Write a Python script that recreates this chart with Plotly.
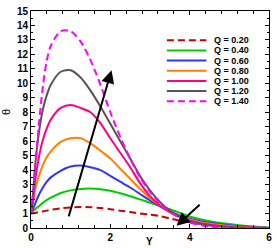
import plotly.graph_objects as go

# ---- data ----
Y = [0, 0.05, 0.1, 0.2, 0.3, 0.4, 0.5, 0.75, 1.0, 1.25, 1.5, 1.75, 2.0, 2.25,
     2.5, 2.75, 3.0, 3.25, 3.5, 3.75, 4.0, 4.5, 5.0, 5.5, 6.0]

theta_q020 = [1.0, 1.02, 1.04, 1.1, 1.15, 1.2, 1.26, 1.36, 1.42, 1.45, 1.44, 1.38,
              1.3, 1.2, 1.1, 1.0, 0.92, 0.82, 0.67, 0.52, 0.4, 0.22, 0.11, 0.04, 0.0]
theta_q040 = [1.0, 1.15, 1.3, 1.5, 1.75, 1.95, 2.1, 2.42, 2.6, 2.7, 2.73, 2.68,
              2.57, 2.4, 2.2, 1.98, 1.75, 1.52, 1.3, 1.05, 0.8, 0.47, 0.27, 0.12, 0.02]
theta_q060 = [1.0, 1.3, 1.65, 2.3, 2.8, 3.2, 3.5, 3.95, 4.25, 4.32, 4.2, 4.0,
              3.6, 3.2, 2.8, 2.35, 1.9, 1.5, 1.15, 0.87, 0.65, 0.36, 0.19, 0.08, 0.01]
theta_q080 = [1.0, 1.7, 2.6, 3.6, 4.35, 4.9, 5.3, 5.95, 6.2, 6.2, 5.85, 5.35,
              4.8, 4.1, 3.4, 2.7, 2.05, 1.55, 1.12, 0.8, 0.58, 0.29, 0.14, 0.05, 0.0]
theta_q100 = [1.0, 1.9, 3.2, 4.9, 6.1, 6.9, 7.5, 8.3, 8.5, 8.3, 8.0, 7.25,
              6.2, 5.2, 4.2, 3.1, 2.2, 1.55, 1.1, 0.75, 0.5, 0.23, 0.09, 0.03, 0.0]
theta_q120 = [1.0, 2.3, 4.2, 6.6, 8.2, 9.2, 9.9, 10.8, 10.9, 10.4, 9.5, 8.4,
              7.2, 6.0, 4.8, 3.6, 2.6, 1.8, 1.2, 0.78, 0.45, 0.17, 0.06, 0.02, 0.0]
theta_q140 = [1.0, 2.3, 4.0, 7.2, 9.8, 11.6, 12.6, 13.6, 13.6, 12.9, 11.6, 9.9,
              8.0, 6.3, 4.8, 3.5, 2.5, 1.7, 1.12, 0.7, 0.38, 0.1, 0.02, 0.0, 0.0]

labels = ["Q = 0.20", "Q = 0.40", "Q = 0.60", "Q = 0.80", "Q = 1.00", "Q = 1.20", "Q = 1.40"]
series = [theta_q020, theta_q040, theta_q060, theta_q080, theta_q100, theta_q120, theta_q140]
colors = ["#CC0000", "#00CC00", "#3333FF", "#FF8000", "#FF0080", "#555555", "#FF00FF"]
dashes = ["7px,4px", "solid", "solid", "solid", "solid", "solid", "7px,4px"]

x_ticks = [0, 2, 4, 6]
y_ticks = list(range(0, 16))

# arrows (tail -> head) in data coords
arrow_up = ((0.94, 0.7), (2.03, 10.9))
arrow_down = ((4.29, 1.7), (3.67, 0.15))

fig = go.Figure()
for lab, ys, c, d in zip(labels, series, colors, dashes):
    fig.add_trace(go.Scatter(x=Y, y=ys, mode="lines", name=lab,
                             line=dict(color=c, width=2, dash=d, shape="spline", smoothing=0.8),
                             showlegend=False))

# manual legend (compact rows like the reference)
lx0, lx1, tx = 0.571, 0.737, 0.761
ly0, dy = 0.865, 0.0468
shapes = []
annotations = []
for i, (lab, c, d) in enumerate(zip(labels, colors, dashes)):
    yy = ly0 - i * dy
    shapes.append(dict(type="line", xref="paper", yref="paper", x0=lx0, x1=lx1, y0=yy, y1=yy,
                       line=dict(color=c, width=2, dash=d)))
    annotations.append(dict(xref="paper", yref="paper", x=tx, y=yy, text=lab, showarrow=False,
                            xanchor="left", yanchor="middle",
                            font=dict(family="Liberation Sans, Arial", size=9, color="black", weight="bold")))

for (tx0, ty0), (hx, hy) in (arrow_up, arrow_down):
    annotations.append(dict(x=hx, y=hy, ax=tx0, ay=ty0, xref="x", yref="y", axref="x", ayref="y",
                            text="", showarrow=True, arrowhead=2, arrowsize=1.3, arrowwidth=2,
                            arrowcolor="black"))

annotations.append(dict(xref="paper", yref="paper", x=(151 - 31) / 241, y=-(248 - 228) / 220,
                        text="Y", showarrow=False, xanchor="center", yanchor="bottom",
                        borderpad=0,
                        font=dict(family="Liberation Sans, Arial", size=10, color="black", weight="bold")))
annotations.append(dict(xref="paper", yref="paper", x=-(31 - 5) / 241, y=1 - (110 - 8) / 220,
                        text="θ", showarrow=False, xanchor="center", yanchor="middle", textangle=-90,
                        font=dict(family="Liberation Sans, Arial", size=11, color="black")))

tickfont = dict(family="Liberation Sans, Arial", size=10, color="black", weight="bold")
fig.update_layout(
    width=277, height=248,
    margin=dict(l=31, r=5, t=8, b=20),
    paper_bgcolor="white", plot_bgcolor="white",
    shapes=shapes, annotations=annotations,
    xaxis=dict(range=[0, 6], tickvals=x_ticks, ticks="inside", ticklen=4, tickwidth=1,
               tickcolor="black", showline=True, linecolor="black", linewidth=1,
               mirror="allticks", showgrid=False, zeroline=False, tickfont=tickfont,
               minor=dict(dtick=0.4, ticks="inside", ticklen=3, tickcolor="black", showgrid=False)),
    yaxis=dict(range=[0, 15], tickvals=y_ticks, ticks="inside", ticklen=4, tickwidth=1,
               tickcolor="black", showline=True, linecolor="black", linewidth=1,
               mirror="allticks", showgrid=False, zeroline=False, tickfont=tickfont,
               minor=dict(dtick=0.5, ticks="inside", ticklen=2, tickcolor="black", showgrid=False)),
)

fig.write_html("out.html", config={"displayModeBar": False},
               post_script="document.body.style.margin='0';document.body.style.overflow='hidden';")
